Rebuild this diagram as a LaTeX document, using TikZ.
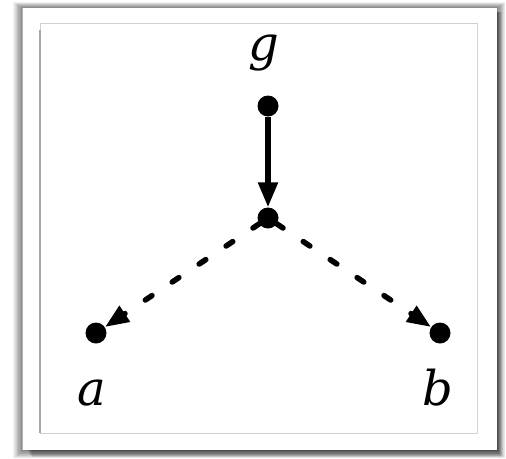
\documentclass[tikz,border=0pt]{standalone}
\usepackage{fontspec}
\setmainfont{DejaVu Serif}
\usetikzlibrary{arrows.meta}
\tikzset{
  dot/.style={circle,fill=black,inner sep=0pt,minimum size=21pt},
  lbl/.style={anchor=base,inner sep=0pt,font=\itshape\fontsize{48}{48}\selectfont},
  solidarrow/.style={line width=5.5pt,-{Triangle[length=25pt,width=19pt]}},
  dasharrow/.style={line width=5.5pt,line cap=round,dash pattern=on 8pt off 24.4pt,dash phase=22.4pt,-{Triangle[length=24pt,width=18pt]}},
}
\begin{document}
\begin{tikzpicture}[x=1pt,y=-1pt]
\useasboundingbox (0,0) rectangle (506,458);
% shadow
\foreach \i in {1,...,12}{
  \fill[black,opacity=0.05] (23-0.8*\i,8-0.5*\i) rectangle (497+0.7*\i,450+0.7*\i);
}
\foreach \i in {1,...,6}{
  \fill[black,opacity=0.09] (26+\i,12) rectangle (497+0.8*\i,450+1.2*\i);
}
% outer frame
\fill[white] (23,8) rectangle (497,450);
\draw[black!30,line width=1.2pt] (22.5,8) -- (22.5,450);
% inner frame
\draw[black!18,line width=0.8pt] (40,23) rectangle (477,433);
\draw[black!35,line width=1.2pt] (40,30) -- (40,433);
% nodes
\node[dot] (g) at (268,106) {};
\node[dot] (c) at (268,218) {};
\node[dot] (a) at (96,333) {};
\node[dot] (b) at (440,333) {};
\node[lbl] (lg) at (264,60) {g};
\node[lbl] (la) at (92,405) {a};
\node[lbl] (lb) at (438,405) {b};
% connectors
\draw[solidarrow] (g) -- (c);
\draw[dasharrow] (c.center) -- (a);
\draw[dasharrow] (c.center) -- (b);
\end{tikzpicture}
\end{document}
